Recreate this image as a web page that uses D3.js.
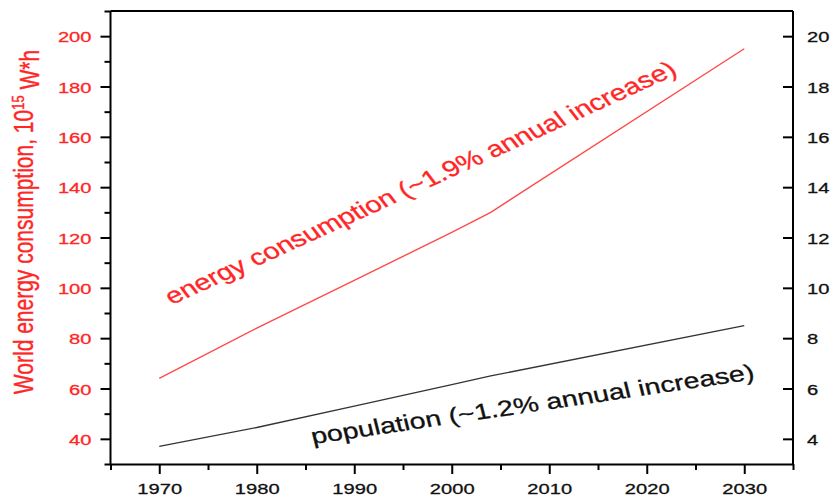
<!DOCTYPE html>
<html>
<head>
<meta charset="utf-8">
<script src="https://cdn.jsdelivr.net/npm/d3@7/dist/d3.min.js"></script>
<style>
  html, body { margin: 0; padding: 0; background: #fff; }
  svg { display: block; font-family: "Liberation Sans", Arial, sans-serif; }
</style>
</head>
<body>
<svg id="chart" width="833" height="499"></svg>
<script>
// Years with estimates and projections
const years = [1970, 1980, 1990, 2000, 2004, 2030];
// World energy consumption, 10^15 W*h (left axis)
const energy = [64, 84, 103, 122, 130, 195];
// World population, billions (right axis)
const population = [3.7, 4.45, 5.3, 6.15, 6.5, 8.5];

const leftTicks = [30, 40, 50, 60, 70, 80, 90, 100, 110, 120, 130, 140, 150, 160, 170, 180, 190, 200, 210];
const leftLabels = [40, 60, 80, 100, 120, 140, 160, 180, 200];
const rightTicks = [4, 6, 8, 10, 12, 14, 16, 18, 20];
const yearTicks = [1965, 1970, 1975, 1980, 1985, 1990, 1995, 2000, 2005, 2010, 2015, 2020, 2025, 2030, 2035];
const yearLabels = [1970, 1980, 1990, 2000, 2010, 2020, 2030];

const energyLabel = "energy consumption (~1.9% annual increase)";
const popLabel = "population (~1.2% annual increase)";

const RED = "#ff2626";
const SX = 1.3; // horizontal widening of the lettering
const TICK_FONT = 15.5;

const svg = d3.select("#chart");
const L = 110.5, R = 793, T = 11, B = 464;

const x = d3.scaleLinear().domain([1965, 2035]).range([L, R]);
const y = d3.scaleLinear().domain([30, 210]).range([B, T]);
const y2 = d3.scaleLinear().domain([3, 21]).range([B, T]);

// Lines
const lineE = d3.line().x((d, i) => x(years[i])).y(d => y(d));
const lineP = d3.line().x((d, i) => x(years[i])).y(d => y2(d));

svg.append("path").datum(energy).attr("d", lineE)
  .attr("fill", "none").attr("stroke", "#ff4a4a").attr("stroke-width", 1.4);
svg.append("path").datum(population).attr("d", lineP)
  .attr("fill", "none").attr("stroke", "#333").attr("stroke-width", 1.3);

function styleAxis(g) {
  g.select(".domain").attr("stroke", "#000").attr("stroke-width", 2);
  g.selectAll(".tick line").attr("stroke", "#000").attr("stroke-width", 2);
}

function styleLabels(sel, color, transform) {
  sel.attr("transform", transform)
    .attr("fill", color).attr("stroke", color).attr("stroke-width", 0.3)
    .attr("font-size", TICK_FONT)
    .attr("font-family", "Liberation Sans, Arial, sans-serif");
}

// Left axis (energy)
const gl = svg.append("g").attr("transform", `translate(${L},0)`)
  .call(d3.axisLeft(y).tickValues(leftTicks).tickSize(10).tickSizeOuter(0)
    .tickFormat(d => leftLabels.includes(d) ? d : ""));
styleAxis(gl);
gl.select(".domain").attr("d", `M0,${T}V${B}`);
gl.selectAll(".tick").filter(d => !leftLabels.includes(d)).select("line").attr("x2", -6);
styleLabels(gl.selectAll(".tick text").attr("x", 0).attr("dy", "0.36em"),
  RED, `translate(-19,0) scale(${SX},1)`);

// Bottom axis (years)
const gb = svg.append("g").attr("transform", `translate(0,${B})`)
  .call(d3.axisBottom(x).tickValues(yearTicks).tickSize(10).tickSizeOuter(0)
    .tickFormat(d => yearLabels.includes(d) ? d : ""));
styleAxis(gb);
gb.selectAll(".tick").filter(d => !yearLabels.includes(d)).select("line").attr("y2", 6);
styleLabels(gb.selectAll(".tick text").attr("y", 0).attr("dy", 0),
  "#111", `translate(0,30) scale(${SX},1)`);

// Right axis (population)
const gr = svg.append("g").attr("transform", `translate(${R},0)`)
  .call(d3.axisRight(y2).tickValues(rightTicks).tickSize(-10).tickSizeOuter(0));
styleAxis(gr);
gr.select(".domain").attr("d", `M0,${T}V${B}`);
styleLabels(gr.selectAll(".tick text").attr("x", 0).attr("dy", "0.36em"),
  "#111", `translate(14,0) scale(${SX},1)`);

// Top frame
svg.append("line").attr("x1", L).attr("x2", R).attr("y1", T).attr("y2", T)
  .attr("stroke", "#000").attr("stroke-width", 2);

// Y-axis title
const title = svg.append("text")
  .attr("transform", `translate(33,222) scale(${SX},1) rotate(-90)`)
  .attr("text-anchor", "middle").attr("fill", RED)
  .attr("stroke", RED).attr("stroke-width", 0.3).attr("font-size", 21);
title.append("tspan").text("World energy consumption, 10");
title.append("tspan").attr("dy", "-0.55em").attr("font-size", 13).text("15");
title.append("tspan").attr("dy", "0.55em").text(" W*h");

// Series labels
svg.append("text")
  .attr("transform", `translate(172,305) scale(${SX},1) rotate(-30.7)`)
  .attr("fill", RED).attr("stroke", RED).attr("stroke-width", 0.3)
  .attr("font-size", 22.5).text(energyLabel);
svg.append("text")
  .attr("transform", `translate(313,444) scale(${SX},1) rotate(-10.8)`)
  .attr("fill", "#111").attr("stroke", "#111").attr("stroke-width", 0.3)
  .attr("font-size", 22).text(popLabel);
</script>
</body>
</html>
